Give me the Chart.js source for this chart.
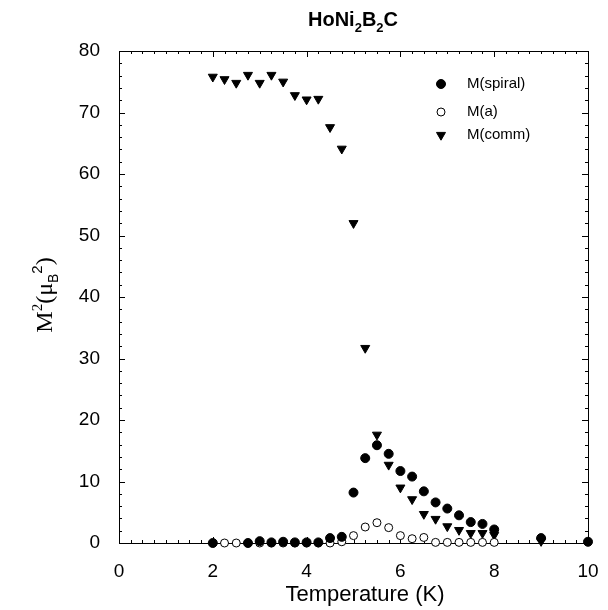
<!DOCTYPE html>
<html>
<head>
<meta charset="utf-8">
<script src="https://cdn.jsdelivr.net/npm/chart.js@4.4.1/dist/chart.umd.min.js"></script>
<style>
  body { margin: 0; background: #fff; }
  #wrap { width: 608px; height: 610px; position: relative; }
</style>
</head>
<body>
<div id="wrap"><canvas id="myChart"></canvas></div>
<script>
// Values (temperature in K, M^2 in muB^2)
const spiralT = [2, 2.75, 3, 3.25, 3.5, 3.75, 4, 4.25, 4.5, 4.75, 5, 5.25, 5.5, 5.75, 6, 6.25, 6.5, 6.75, 7, 7.25, 7.5, 7.75, 8, 9, 10];
const spiralM = [0, 0, 0.3, 0.1, 0.2, 0.1, 0.1, 0.1, 0.8, 1.0, 8.2, 13.8, 15.9, 14.5, 11.7, 10.8, 8.4, 6.6, 5.6, 4.5, 3.4, 3.1, 2.2, 0.8, 0.2];

const aT = [2.25, 2.5, 3, 3.25, 3.5, 3.75, 4, 4.25, 4.5, 4.75, 5, 5.25, 5.5, 5.75, 6, 6.25, 6.5, 6.75, 7, 7.25, 7.5, 7.75, 8];
const aM = [0, 0, 0, 0, 0, 0, 0, 0, 0, 0.2, 1.2, 2.6, 3.3, 2.5, 1.2, 0.7, 0.9, 0.1, 0.1, 0.1, 0.1, 0.1, 0.1];

const commT = [2, 2.25, 2.5, 2.75, 3, 3.25, 3.5, 3.75, 4, 4.25, 4.5, 4.75, 5, 5.25, 5.5, 5.75, 6, 6.25, 6.5, 6.75, 7, 7.25, 7.5, 7.75, 8, 9];
const commM = [75.8, 75.4, 74.8, 76.1, 74.8, 76.1, 75.0, 72.8, 72.1, 72.2, 67.6, 64.1, 52.0, 31.7, 17.6, 12.7, 9.0, 7.1, 4.7, 3.9, 2.7, 2.1, 1.6, 1.6, 1.3, 0.3];

const seriesNames = ['M(spiral)', 'M(a)', 'M(comm)'];
const xTickLabels = [0, 2, 4, 6, 8, 10];
const yTickLabels = [0, 10, 20, 30, 40, 50, 60, 70, 80];

function pts(xs, ys) {
    return xs.map((x, i) => ({x: x, y: ys[i]}));
}

// frame, inward ticks, titles with sub/superscripts, legend inside the plot
const decorPlugin = {
    id: 'decor',
    beforeDatasetsDraw(chart) {
        const ctx = chart.ctx;
        const a = chart.chartArea;
        const sx = chart.scales.x, sy = chart.scales.y;
        ctx.save();
        ctx.strokeStyle = '#000';
        ctx.lineWidth = 1;
        ctx.strokeRect(a.left + 0.5, a.top + 0.5, a.right - a.left, a.bottom - a.top);

        ctx.beginPath();
        for (let v = 0; v <= 10.001; v += 0.25) {
            const px = Math.round(sx.getPixelForValue(v)) + 0.5;
            const len = (Math.abs(v / 2 - Math.round(v / 2)) < 1e-6) ? 6 : 3;
            ctx.moveTo(px, a.bottom); ctx.lineTo(px, a.bottom - len);
            ctx.moveTo(px, a.top); ctx.lineTo(px, a.top + len);
        }
        for (let v = 0; v <= 80.001; v += 2) {
            const py = Math.round(sy.getPixelForValue(v)) + 0.5;
            const len = (v % 10 === 0) ? 6 : 3;
            ctx.moveTo(a.left, py); ctx.lineTo(a.left + len, py);
            ctx.moveTo(a.right, py); ctx.lineTo(a.right - len, py);
        }
        ctx.stroke();
        ctx.restore();
    },
    afterDraw(chart) {
        const ctx = chart.ctx;
        ctx.save();
        ctx.fillStyle = '#000';
        ctx.textBaseline = 'alphabetic';

        // main title HoNi2B2C
        const tParts = [['HoNi', 'bold 20px Arial', 0], ['2', 'bold 13px Arial', 6], ['B', 'bold 20px Arial', 0], ['2', 'bold 13px Arial', 6], ['C', 'bold 20px Arial', 0]];
        let tw = 0;
        tParts.forEach(p => { ctx.font = p[1]; tw += ctx.measureText(p[0]).width; });
        let tx = 353 - tw / 2;
        tParts.forEach(p => { ctx.font = p[1]; ctx.fillText(p[0], tx, 26 + p[2]); tx += ctx.measureText(p[0]).width; });

        // x axis title
        ctx.font = '22px Arial';
        ctx.textAlign = 'center';
        ctx.fillText('Temperature (K)', 365, 601);
        ctx.textAlign = 'left';

        // y axis title M2(muB2), rotated
        const yParts = [['M', '24px "Liberation Serif"', 0], ['2', '15px "Liberation Serif"', -10], ['(\u03bc', '24px "Liberation Serif"', 0], ['B', '14px Arial', 6], ['2', '15px Arial', -10], [')', '24px "Liberation Serif"', 0]];
        let yw = 0;
        yParts.forEach(p => { ctx.font = p[1]; yw += ctx.measureText(p[0]).width; });
        ctx.translate(52, 295);
        ctx.rotate(-Math.PI / 2);
        let yx = -yw / 2;
        yParts.forEach(p => { ctx.font = p[1]; ctx.fillText(p[0], yx, p[2]); yx += ctx.measureText(p[0]).width; });
        ctx.setTransform(1, 0, 0, 1, 0, 0);

        // legend
        const rows = [84, 112, 135];
        chart.data.datasets.forEach((ds, i) => {
            ctx.fillStyle = ds.backgroundColor;
            ctx.strokeStyle = '#000';
            ctx.lineWidth = ds.borderWidth;
            Chart.helpers.drawPoint(ctx, {
                pointStyle: ds.pointStyle,
                rotation: ds.pointRotation || 0,
                radius: ds.pointRadius,
                borderWidth: ds.borderWidth
            }, 441, rows[i]);
            ctx.fillStyle = '#000';
            ctx.font = '15px Arial';
            ctx.textBaseline = 'middle';
            ctx.fillText(seriesNames[i], 467, rows[i]);
        });
        ctx.restore();
    }
};

const data = {
    datasets: [
      {
        label: seriesNames[0],
        data: pts(spiralT, spiralM),
        pointStyle: 'circle',
        pointRadius: 4.5,
        backgroundColor: '#000',
        borderColor: '#000',
        borderWidth: 1,
        showLine: false,
        clip: false,
      },
      {
        label: seriesNames[1],
        data: pts(aT, aM),
        pointStyle: 'circle',
        pointRadius: 4,
        backgroundColor: '#fff',
        borderColor: '#000',
        borderWidth: 1,
        showLine: false,
        clip: false,
      },
      {
        label: seriesNames[2],
        data: pts(commT, commM),
        pointStyle: 'triangle',
        pointRotation: 180,
        pointRadius: 5.2,
        backgroundColor: '#000',
        borderColor: '#000',
        borderWidth: 1,
        showLine: false,
        clip: false,
      },
    ]
};

const config = {
    type: 'scatter',
    data: data,
    options: {
        responsive: true,
        maintainAspectRatio: false,
        animation: false,
        layout: { padding: { top: 51, right: 20, left: 0, bottom: 0 } },
        plugins: {
            legend: { display: false },
            title: { display: false },
            tooltip: { enabled: false },
        },
        scales: {
            x: {
                type: 'linear',
                min: 0,
                max: 10,
                afterFit: s => { s.height = 67; },
                afterBuildTicks: s => { s.ticks = xTickLabels.map(v => ({value: v})); },
                grid: { display: false },
                border: { display: false },
                ticks: { color: '#000', font: { family: 'Arial', size: 19 }, padding: 9, maxRotation: 0 },
            },
            y: {
                type: 'linear',
                min: 0,
                max: 80,
                afterFit: s => { s.width = 119; },
                afterBuildTicks: s => { s.ticks = yTickLabels.map(v => ({value: v})); },
                grid: { display: false },
                border: { display: false },
                ticks: { color: '#000', font: { family: 'Arial', size: 19 }, padding: 11 },
            }
        }
    },
    plugins: [decorPlugin],
};

const myChart = new Chart(
    document.getElementById('myChart'),
    config
);
</script>
</body>
</html>
